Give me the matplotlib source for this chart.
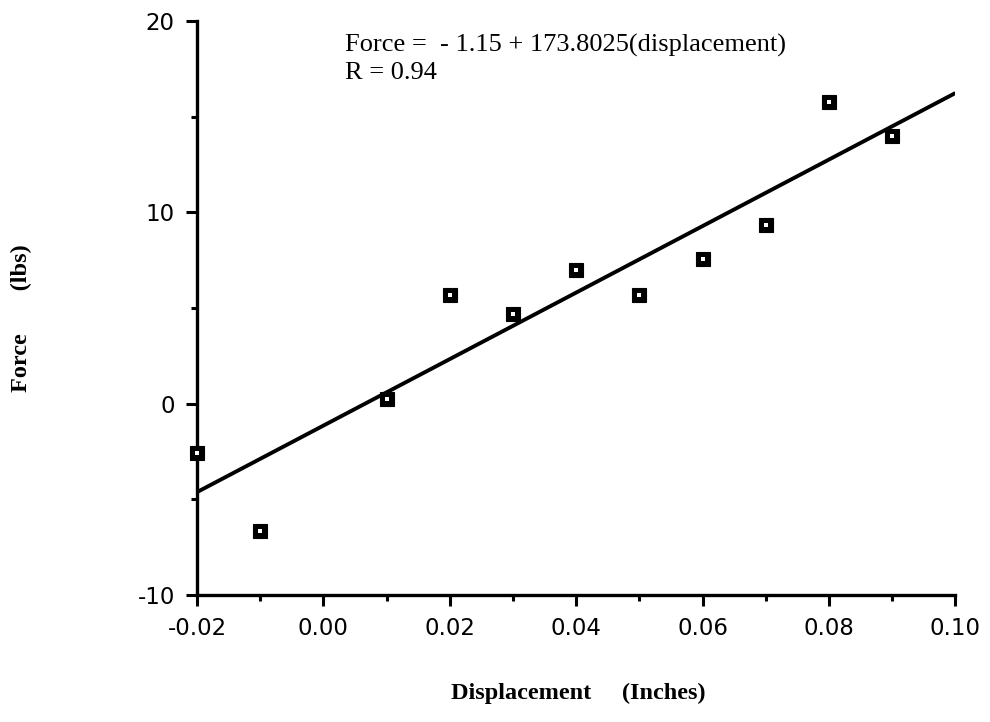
import matplotlib
matplotlib.use("Agg")
import matplotlib.pyplot as plt
import numpy as np
from matplotlib.ticker import MultipleLocator, FormatStrFormatter

plt.rcParams['axes.unicode_minus'] = False

displacement = [-0.02, -0.01, 0.01, 0.02, 0.03, 0.04, 0.05, 0.06, 0.07, 0.08, 0.09]
force = [-2.6, -6.65, 0.26, 5.65, 4.66, 6.96, 5.65, 7.54, 9.32, 15.76, 13.98]
intercept = -1.15
slope = 173.8025
fit_x = [-0.02, 0.10]

fig = plt.figure(figsize=(9.9, 7.22), dpi=100)
ax = fig.add_axes([0.199, 0.176, 0.766, 0.795])

fx = np.array(fit_x)
ax.plot(fx, intercept + slope * fx, color='black', lw=2.8, solid_capstyle='butt', zorder=2)
ax.plot(displacement, force, ls='none', marker='s', ms=9.5, mfc='black', mec='black', mew=0.8,
        zorder=3, clip_on=False)
ax.plot(displacement, force, ls='none', marker='s', ms=2.2, mfc='white', mec='white', mew=0,
        zorder=4, clip_on=False)

ax.set_xlim(-0.02, 0.10)
ax.set_ylim(-10, 20)
for s in ['top', 'right']:
    ax.spines[s].set_visible(False)
for s in ['left', 'bottom']:
    ax.spines[s].set_linewidth(2.4)
ax.xaxis.set_major_locator(MultipleLocator(0.02))
ax.xaxis.set_minor_locator(MultipleLocator(0.01))
ax.yaxis.set_major_locator(MultipleLocator(10))
ax.yaxis.set_minor_locator(MultipleLocator(5))
ax.xaxis.set_major_formatter(FormatStrFormatter('%.2f'))
ax.tick_params(which='major', direction='out', length=8, width=2.2, pad=8)
ax.tick_params(which='minor', direction='out', length=4, width=2.2)
for lab in ax.get_xticklabels() + ax.get_yticklabels():
    lab.set_fontfamily('DejaVu Sans')
    lab.set_fontsize(16.5)

ax.text(0.195, 0.978, 'Force =  - 1.15 + 173.8025(displacement)\nR = 0.94',
        transform=ax.transAxes, ha='left', va='top', fontfamily='Liberation Serif',
        fontsize=19, linespacing=1.3)

fig.text(0.584, 0.04, 'Displacement     (Inches)', ha='center', va='center',
         fontfamily='Liberation Serif', fontweight='bold', fontsize=17.5)
fig.text(0.022, 0.56, 'Force       (lbs)', ha='center', va='center', rotation=90,
         fontfamily='Liberation Serif', fontweight='bold', fontsize=17.5)

fig.savefig('out.png', dpi=100)
